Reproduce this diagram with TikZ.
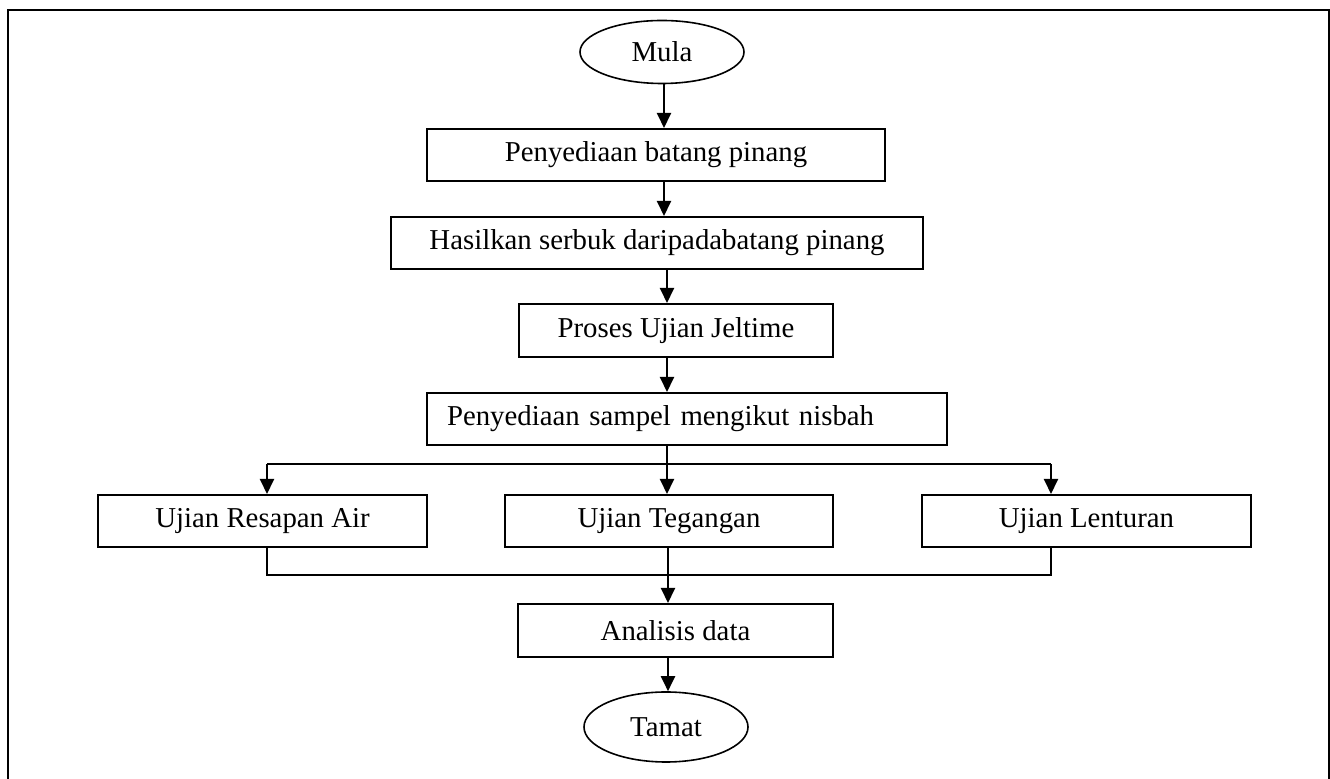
\documentclass[tikz,border=0pt]{standalone}
\usepackage{fontspec}
\setmainfont{Liberation Serif}
\usetikzlibrary{shapes.geometric,arrows.meta}

\begin{document}
\begin{tikzpicture}[x=0.5pt,y=-0.5pt,
  proses/.style={draw,line width=1pt,minimum height=26pt,inner sep=0pt,font=\fontsize{14.4}{17}\selectfont},
  hujung/.style={draw,ellipse,line width=0.8pt,inner sep=0pt,font=\fontsize{14.4}{17}\selectfont},
  anak/.style={line width=1pt,-{Triangle[length=7.5pt,width=7pt]}},
  garis/.style={line width=1pt}]
  \useasboundingbox (0,0) rectangle (1330,779);
  % bingkai luar (tanpa sisi bawah)
  \draw[line width=1pt] (8,779)--(8,10)--(1329,10)--(1329,779);

  \node[hujung,minimum width=82pt,minimum height=31.5pt] (mula) at (662,52) {Mula};
  \node[proses,minimum width=229pt] (sedia) at (656,155) {Penyediaan batang pinang};
  \node[proses,minimum width=266pt] (serbuk) at (657,243) {Hasilkan serbuk daripadabatang pinang};
  \node[proses,minimum width=157pt,minimum height=26.5pt] (jeltime) at (676,330.5) {Proses Ujian Jeltime};
  \node[proses,minimum height=26pt,text width=240pt,inner xsep=10pt,align=left] (nisbah) at (687,419) {Penyediaan sampel mengikut nisbah};

  \node[proses,minimum width=164.5pt] (resapan) at (262.5,521) {Ujian Resapan Air};
  \node[proses,minimum width=164pt] (tegangan) at (669,521) {Ujian Tegangan};
  \node[proses,minimum width=164.5pt] (lenturan) at (1086.5,521) {Ujian Lenturan};

  \node[proses,minimum width=157.5pt,minimum height=26.5pt] (analisis) at (675.5,630.5) {Analisis data};
  \node[hujung,minimum width=82pt,minimum height=35pt] (tamat) at (666,727) {Tamat};

  \coordinate (tulang) at (664,0);
  \coordinate (cabang) at (667,464);
  \coordinate (kiri) at (267,464);
  \coordinate (kanan) at (1051,464);
  \coordinate (cantum) at (668,575);

  \draw[anak] (tulang |- mula.south)--(tulang |- sedia.north);
  \draw[anak] (tulang |- sedia.south)--(tulang |- serbuk.north);
  \draw[anak] (cabang |- serbuk.south)--(cabang |- jeltime.north);
  \draw[anak] (cabang |- jeltime.south)--(cabang |- nisbah.north);

  \draw[garis] (cabang |- nisbah.south)--(cabang);
  \draw[garis] (kiri)--(kanan);
  \draw[anak] (kiri)--(kiri |- resapan.north);
  \draw[anak] (cabang)--(cabang |- tegangan.north);
  \draw[anak] (kanan)--(kanan |- lenturan.north);

  \draw[garis] (kiri |- resapan.south)--(kiri |- cantum)--(kanan |- cantum)--(kanan |- lenturan.south);
  \draw[anak] (cantum |- tegangan.south)--(cantum |- analisis.north);
  \draw[anak] (cantum |- analisis.south)--(cantum |- tamat.north);
\end{tikzpicture}
\end{document}
